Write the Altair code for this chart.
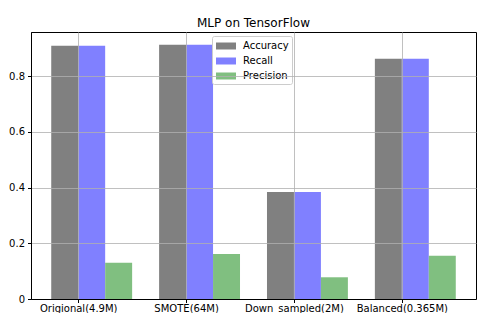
import altair as alt
import pandas as pd

categories = ["Origional(4.9M)", "SMOTE(64M)", "Down_sampled(2M)", "Balanced(0.365M)"]
series_names = ["Accuracy", "Recall", "Precision"]
accuracy = [0.909, 0.913, 0.384, 0.863]
recall = [0.909, 0.913, 0.384, 0.863]
precision = [0.130, 0.162, 0.078, 0.155]
colors = ["#808080", "#8080ff", "#80bf80"]

rows = []
for s, vals in enumerate([accuracy, recall, precision]):
    for i, v in enumerate(vals):
        rows.append({"cat": i, "series": series_names[s], "s": s, "value": v})
df = pd.DataFrame(rows)

label_expr = "[" + ",".join(f"'{c}'" for c in categories) + "][datum.value]"

FONT = "DejaVu Sans"

chart = (
    alt.Chart(df)
    .transform_calculate(
        x0="datum.cat + (datum.s - 1) * 0.25",
        x1="datum.cat + datum.s * 0.25",
    )
    .mark_bar(strokeWidth=0)
    .encode(
        x=alt.X(
            "x0:Q",
            scale=alt.Scale(domain=[-0.4375, 3.6875], nice=False, zero=False),
            axis=alt.Axis(
                values=[0, 1, 2, 3],
                labelExpr=label_expr,
                grid=True,
                gridColor="#b0b0b0",
                gridWidth=0.8,
                tickSize=3.5,
                tickColor="black",
                domainColor="black",
                labelFontSize=10,
                labelFont=FONT,
                labelColor="black",
                labelPadding=0.5,
                labelFlush=False,
                labelOverlap=False,
                title=None,
                zindex=1,
            ),
        ),
        x2="x1:Q",
        y=alt.Y(
            "value:Q",
            scale=alt.Scale(domain=[0, 0.9586], nice=False),
            axis=alt.Axis(
                values=[0, 0.2, 0.4, 0.6, 0.8],
                labelExpr="datum.value == 0 ? '0' : format(datum.value, '.1f')",
                grid=True,
                gridColor="#b0b0b0",
                gridWidth=0.8,
                tickSize=3.5,
                tickColor="black",
                domainColor="black",
                labelFontSize=10,
                labelFont=FONT,
                labelColor="black",
                labelPadding=3,
                title=None,
                zindex=1,
            ),
        ),
        y2=alt.datum(0),
        color=alt.Color(
            "series:N",
            scale=alt.Scale(domain=series_names, range=colors),
            sort=series_names,
            legend=alt.Legend(
                title=None,
                orient="none",
                legendX=181,
                legendY=4,
                symbolType="M-1.43,-0.5L1.43,-0.5L1.43,0.5L-1.43,0.5Z",
                symbolSize=196,
                symbolStrokeWidth=0,
                symbolOpacity=1,
                symbolOffset=4,
                labelOffset=10,
                labelFontSize=10,
                labelFont=FONT,
                labelColor="black",
                rowPadding=3,
                padding=3,
                fillColor="rgba(255,255,255,0.8)",
                strokeColor="#cccccc",
                cornerRadius=2,
            ),
        ),
    )
    .properties(
        width=445,
        height=267,
        title=alt.TitleParams(
            "MLP on TensorFlow",
            fontSize=12,
            font=FONT,
            fontWeight="normal",
            color="black",
            anchor="middle",
            frame="group",
            baseline="alphabetic",
            offset=6,
            dy=13,
        ),
        autosize=alt.AutoSizeParams(type="none"),
        padding={"left": 23, "top": 24, "right": 13, "bottom": 14},
    )
    .configure_view(stroke="black", strokeWidth=1)
)

chart.save("out.html", embed_options={"renderer": "svg", "actions": False})
